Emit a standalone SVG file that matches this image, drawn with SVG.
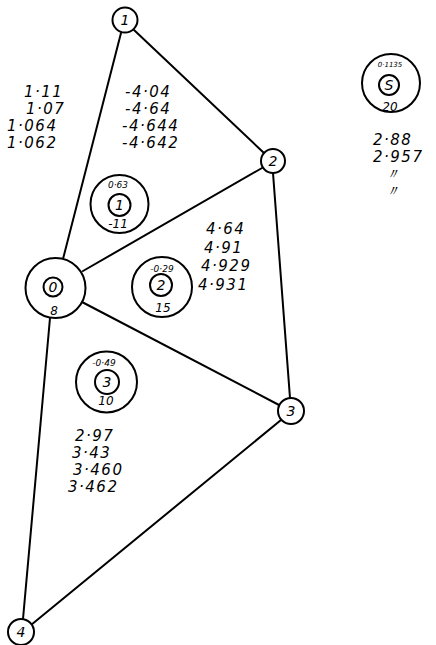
<svg xmlns="http://www.w3.org/2000/svg" width="436" height="645" viewBox="0 0 436 645">
<style>
.n{fill:#fff;stroke:#000;stroke-width:2}
.e{stroke:#000;stroke-width:2;fill:none;stroke-linecap:round}
.t{font-family:"DejaVu Sans",sans-serif;font-style:italic;fill:#000}
.lbl{font-size:14px;text-anchor:middle}
.lst{font-size:15px;letter-spacing:1.5px}
.sm{font-size:9px;text-anchor:middle}
.md{font-size:12px;text-anchor:middle}
</style>
<rect width="436" height="645" fill="#fff"/>
<g id="connectors">
<line class="e" x1="121" y1="33" x2="63" y2="259"/>
<line class="e" x1="134" y1="30" x2="264" y2="153"/>
<line class="e" x1="262" y1="168" x2="83" y2="271"/>
<line class="e" x1="273" y1="173" x2="290" y2="398"/>
<line class="e" x1="82" y1="302" x2="279" y2="405"/>
<line class="e" x1="50" y1="318" x2="23" y2="619"/>
<line class="e" x1="281" y1="420" x2="31" y2="625"/>
</g>
<g id="node1"><circle class="n" cx="125" cy="20" r="12.5"/><text class="t lbl" x="125" y="25">1</text></g>
<g id="node2"><circle class="n" cx="273" cy="161" r="12"/><text class="t lbl" x="273" y="166">2</text></g>
<g id="node0"><circle class="n" cx="55.5" cy="288" r="30"/><circle class="n" cx="53" cy="287" r="9.5"/><text class="t lbl" x="53" y="292">0</text><text class="t md" x="54" y="315">8</text></g>
<g id="node3"><circle class="n" cx="291" cy="411" r="13"/><text class="t lbl" x="291" y="416">3</text></g>
<g id="node4"><circle class="n" cx="21" cy="632" r="13"/><text class="t lbl" x="21" y="637">4</text></g>
<g id="elem1"><circle class="n" cx="119.5" cy="204" r="29"/><circle class="n" cx="119.5" cy="205" r="11"/><text class="t lbl" x="119.5" y="210">1</text><text class="t sm" x="118" y="188">0·63</text><text class="t md" x="118" y="228">-11</text></g>
<g id="elem2"><circle class="n" cx="162" cy="287" r="30"/><circle class="n" cx="161" cy="285" r="11"/><text class="t lbl" x="161" y="290">2</text><text class="t sm" x="162" y="272">-0·29</text><text class="t md" x="163" y="312">15</text></g>
<g id="elem3"><circle class="n" cx="106.5" cy="382" r="30.5"/><circle class="n" cx="107" cy="382" r="12"/><text class="t lbl" x="107" y="387">3</text><text class="t sm" x="104" y="366">-0·49</text><text class="t md" x="106" y="405">10</text></g>
<g id="elemS"><circle class="n" cx="391" cy="83" r="29"/><circle class="n" cx="389" cy="85" r="10"/><text class="t lbl" x="389" y="90">S</text><text class="t" font-size="7" text-anchor="middle" x="390" y="67">0·1135</text><text class="t md" x="390" y="111">20</text></g>
<g id="list-left" class="t lst">
<text x="24" y="97">1·11</text>
<text x="26" y="114">1·07</text>
<text x="7" y="131">1·064</text>
<text x="7" y="148">1·062</text>
</g>
<g id="list-e1" class="t lst">
<text x="125" y="97">-4·04</text>
<text x="125" y="114">-4·64</text>
<text x="122" y="131">-4·644</text>
<text x="122" y="148">-4·642</text>
</g>
<g id="list-e2" class="t lst">
<text x="206" y="234">4·64</text>
<text x="204" y="253">4·91</text>
<text x="201" y="271">4·929</text>
<text x="198" y="290">4·931</text>
</g>
<g id="list-e3" class="t lst">
<text x="75" y="441">2·97</text>
<text x="72" y="458">3·43</text>
<text x="73" y="475">3·460</text>
<text x="68" y="492">3·462</text>
</g>
<g id="list-s" class="t lst">
<text x="373" y="145">2·88</text>
<text x="373" y="162">2·957</text>
<text x="385" y="179">〃</text>
<text x="385" y="196">〃</text>
</g>
</svg>
